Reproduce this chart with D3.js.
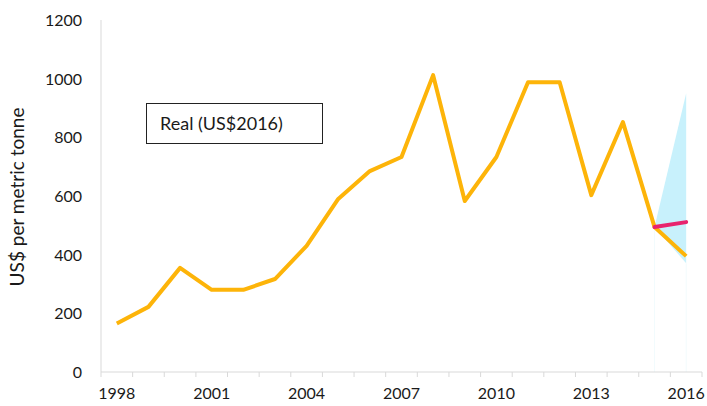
<!DOCTYPE html>
<html lang="en">
<head>
    <meta charset="UTF-8">
    <title>Real price chart</title>
    <script src="https://d3js.org/d3.v7.min.js"></script>
    <style>
        body { margin: 0; background: #fff; }
        text { font-family: Lato, "Open Sans", sans-serif; fill: #1a1a1a; }
    </style>
</head>
<body>
    <script>
        //Data
        var years = d3.range(1998, 2017);
        var realPrice = [165, 222, 355, 280, 280, 317, 430, 590, 685, 733, 1012, 583, 733, 988, 988, 603, 852, 494, 395];
        var forecastYears = [2015, 2016];
        var forecast = [494, 511];
        var fanLow = [494, 371];
        var fanHigh = [494, 950];
        var yTicks = [0, 200, 400, 600, 800, 1000, 1200];
        var xLabels = [1998, 2001, 2004, 2007, 2010, 2013, 2016];

        //SVG dimensions and plot edges
        var w = 707;
        var h = 406;
        var plotLeft = 101, plotRight = 702, plotTop = 20, plotBottom = 372;

        var svg = d3.select("body")
            .append("svg")
            .attr("width", w)
            .attr("height", h);

        //Scales
        var xBand = d3.scaleBand()
            .domain(years)
            .range([plotLeft, plotRight]);
        var x = function(d) { return xBand(d) + xBand.bandwidth() / 2; };

        var y = d3.scaleLinear()
            .domain([0, 1200])
            .range([plotBottom, plotTop]);

        //Fan area
        var fan = forecastYears.map(function(d, i) { return [d, fanLow[i], fanHigh[i]]; });
        svg.append("path")
            .datum(fan)
            .attr("fill", "#c8f1fc")
            .attr("d", d3.area()
                .x(function(d) { return x(d[0]); })
                .y0(function(d) { return y(d[1]); })
                .y1(function(d) { return y(d[2]); }));

        //Faint verticals under the fan
        svg.selectAll(".faint")
            .data(fan)
            .enter()
            .append("line")
            .attr("x1", function(d) { return x(d[0]); })
            .attr("x2", function(d) { return x(d[0]); })
            .attr("y1", function(d) { return y(d[1]); })
            .attr("y2", plotBottom)
            .attr("stroke", "#f2fbfd")
            .attr("stroke-width", 1);

        //Y axis
        svg.append("line")
            .attr("x1", plotLeft).attr("x2", plotLeft)
            .attr("y1", plotTop).attr("y2", plotBottom)
            .attr("stroke", "#d9d9d9");
        svg.selectAll(".ytick")
            .data(yTicks)
            .enter()
            .append("text")
            .attr("x", 82)
            .attr("y", function(d) { return y(d) + 6; })
            .attr("text-anchor", "end")
            .style("font-size", "16px")
            .text(function(d) { return d; });

        //X axis
        svg.append("line")
            .attr("x1", plotLeft).attr("x2", plotRight)
            .attr("y1", plotBottom).attr("y2", plotBottom)
            .attr("stroke", "#d9d9d9");
        var bounds = years.map(function(d) { return xBand(d); }).concat([plotRight]);
        svg.selectAll(".xtick")
            .data(bounds)
            .enter()
            .append("line")
            .attr("x1", function(d) { return d; })
            .attr("x2", function(d) { return d; })
            .attr("y1", plotBottom)
            .attr("y2", plotBottom + 5)
            .attr("stroke", "#d9d9d9");
        svg.selectAll(".xlabel")
            .data(xLabels)
            .enter()
            .append("text")
            .attr("x", function(d) { return x(d); })
            .attr("y", 399)
            .attr("text-anchor", "middle")
            .style("font-size", "16px")
            .text(function(d) { return d; });

        //Y axis title
        svg.append("text")
            .attr("transform", "translate(24,197) rotate(-90)")
            .attr("text-anchor", "middle")
            .style("font-size", "19px")
            .text("US$ per metric tonne");

        //Real price line
        svg.append("path")
            .datum(years.map(function(d, i) { return [d, realPrice[i]]; }))
            .attr("fill", "none")
            .attr("stroke", "#fdb409")
            .attr("stroke-width", 4)
            .attr("stroke-linejoin", "round")
            .attr("d", d3.line()
                .x(function(d) { return x(d[0]); })
                .y(function(d) { return y(d[1]); }));

        //Forecast line
        svg.append("path")
            .datum(forecastYears.map(function(d, i) { return [d, forecast[i]]; }))
            .attr("fill", "none")
            .attr("stroke", "#e8246e")
            .attr("stroke-width", 4)
            .attr("stroke-linecap", "round")
            .attr("d", d3.line()
                .x(function(d) { return x(d[0]); })
                .y(function(d) { return y(d[1]); }));

        //Label box
        svg.append("rect")
            .attr("x", 146.5).attr("y", 103.5)
            .attr("width", 176).attr("height", 40)
            .attr("fill", "#fff")
            .attr("stroke", "#222")
            .attr("stroke-width", 1);
        svg.append("text")
            .attr("x", 160).attr("y", 130)
            .style("font-size", "18px")
            .text("Real (US$2016)");
    </script>
</body>
</html>
